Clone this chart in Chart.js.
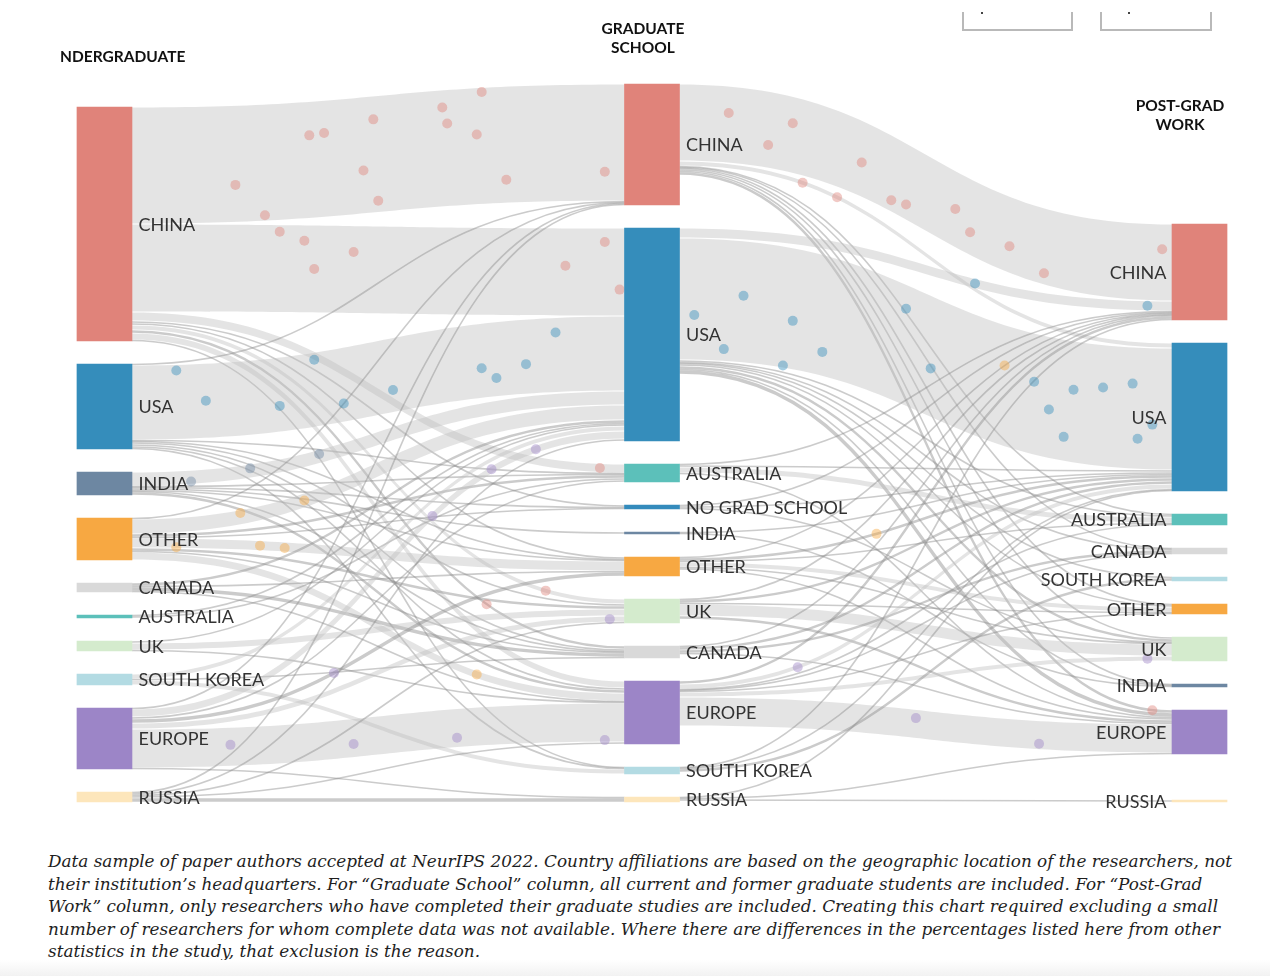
<!DOCTYPE html>
<html>
<head>
<meta charset="utf-8">
<script src="https://cdn.jsdelivr.net/npm/chart.js@4.4.1/dist/chart.umd.min.js"></script>
<style>
	body { margin: 0; background: #fff; width: 1270px; height: 976px; overflow: hidden; position: relative; }
	#wrap { position: absolute; left: 0; top: 0; width: 1270px; height: 840px; }
	#caption { position: absolute; left: 48px; top: 850px; font: italic 16.85px/22.6px "DejaVu Serif", serif; color: #1e1e1e; white-space: nowrap; }
	#shade { position: absolute; left: 0; top: 960px; width: 1270px; height: 16px; background: linear-gradient(#fff, #f2f2f2); }
</style>
</head>
<body>
<div id="wrap"><canvas id="sankey" width="1270" height="840"></canvas></div>
<div id="caption">Data sample of paper authors accepted at NeurIPS 2022. Country affiliations are based on the geographic location of the researchers, not<br>their institution’s headquarters. For “Graduate School” column, all current and former graduate students are included. For “Post-Grad<br>Work” column, only researchers who have completed their graduate studies are included. Creating this chart required excluding a small<br>number of researchers for whom complete data was not available. Where there are differences in the percentages listed here from other<br>statistics in the study, that exclusion is the reason.</div>
<div id="shade"></div>
<script>
// VARIABLES ================================================

const undergradNodes = ["CHINA", "USA", "INDIA", "OTHER", "CANADA", "AUSTRALIA", "UK", "SOUTH KOREA", "EUROPE", "RUSSIA"];
const gradNodes = ["CHINA", "USA", "AUSTRALIA", "NO GRAD SCHOOL", "INDIA", "OTHER", "UK", "CANADA", "EUROPE", "SOUTH KOREA", "RUSSIA"];
// the empty name keeps the blank slot above RUSSIA in the work column
const workNodes = ["CHINA", "USA", "AUSTRALIA", "CANADA", "SOUTH KOREA", "OTHER", "UK", "INDIA", "EUROPE", "", "RUSSIA"];

// rows = undergrad country, columns = grad school country (authors)
const undergradToGrad = [
	[117, 88, 9, 2, 0, 2, 5, 3, 7, 1, 0], // CHINA
	[1, 75, 1, 0, 0, 1, 2, 2, 2, 1, 0], // USA
	[0, 14, 1, 1, 2, 1, 0, 1, 3, 0, 0], // INDIA
	[1, 15, 3, 1, 0, 10, 3, 1, 8, 0, 0], // OTHER
	[0, 3, 0, 0, 0, 1, 0, 4, 1, 0, 0], // CANADA
	[0, 1, 2, 0, 0, 0, 0, 0, 0, 0, 0], // AUSTRALIA
	[0, 2, 0, 0, 0, 0, 7, 0, 1, 0, 0], // UK
	[0, 5, 0, 0, 0, 0, 0, 1, 0, 5, 0], // SOUTH KOREA
	[1, 8, 2, 0, 0, 4, 6, 0, 39, 0, 1], // EUROPE
	[1, 2, 0, 0, 0, 0, 1, 0, 2, 0, 4], // RUSSIA
];

// rows = grad school country, columns = post-grad work country (authors)
const gradToWork = [
	[77, 5, 1, 1, 0, 1, 2, 1, 3, 0, 0], // CHINA
	[10, 122, 2, 1, 1, 2, 3, 1, 4, 0, 0], // USA
	[1, 2, 6, 0, 0, 0, 0, 0, 1, 0, 0], // AUSTRALIA
	[1, 2, 0, 0, 0, 0, 1, 0, 0, 0, 0], // NO GRAD SCHOOL
	[0, 1, 0, 0, 0, 0, 0, 1, 0, 0, 0], // INDIA
	[1, 3, 1, 0, 0, 5, 1, 0, 2, 0, 0], // OTHER
	[1, 3, 0, 0, 0, 1, 12, 0, 3, 0, 0], // UK
	[1, 3, 0, 3, 0, 0, 0, 0, 1, 0, 0], // CANADA
	[3, 5, 1, 1, 0, 1, 5, 0, 29, 0, 0], // EUROPE
	[1, 1, 0, 0, 3, 0, 0, 0, 0, 0, 0], // SOUTH KOREA
	[0, 1, 0, 0, 0, 0, 0, 0, 1, 0, 2], // RUSSIA
];

// moving dots: stage, from, to, share of the way across, share of the band height
const dots = [
	[0, "CHINA", "CHINA", 0.21, 0.68], [0, "CHINA", "CHINA", 0.27, 0.95], [0, "CHINA", "CHINA", 0.36, 0.29], [0, "CHINA", "CHINA", 0.39, 0.28],
	[0, "CHINA", "CHINA", 0.47, 0.63], [0, "CHINA", "CHINA", 0.49, 0.2], [0, "CHINA", "CHINA", 0.5, 0.9], [0, "CHINA", "CHINA", 0.63, 0.15],
	[0, "CHINA", "CHINA", 0.64, 0.29], [0, "CHINA", "CHINA", 0.7, 0.4], [0, "CHINA", "CHINA", 0.71, 0.04], [0, "CHINA", "CHINA", 0.76, 0.8],
	[0, "CHINA", "CHINA", 0.96, 0.75],
	[0, "CHINA", "USA", 0.3, 0.08], [0, "CHINA", "USA", 0.35, 0.18], [0, "CHINA", "USA", 0.37, 0.5], [0, "CHINA", "USA", 0.45, 0.3],
	[0, "CHINA", "USA", 0.88, 0.43], [0, "CHINA", "USA", 0.96, 0.16], [0, "CHINA", "USA", 0.99, 0.7],
	[0, "CHINA", "AUSTRALIA", 0.95, 0.5], [0, "CHINA", "UK", 0.84, 0.5], [0, "CHINA", "CANADA", 0.72, 0.5],
	[0, "USA", "USA", 0.09, 0.08], [0, "USA", "USA", 0.15, 0.5], [0, "USA", "USA", 0.3, 0.65], [0, "USA", "USA", 0.37, 0.1],
	[0, "USA", "USA", 0.43, 0.75], [0, "USA", "USA", 0.53, 0.7], [0, "USA", "USA", 0.71, 0.6], [0, "USA", "USA", 0.74, 0.75],
	[0, "USA", "USA", 0.8, 0.6], [0, "USA", "USA", 0.86, 0.2],
	[0, "INDIA", "USA", 0.12, 0.8], [0, "INDIA", "USA", 0.24, 0.3], [0, "INDIA", "USA", 0.38, 0.3],
	[0, "OTHER", "USA", 0.22, 0.2], [0, "OTHER", "USA", 0.35, 0.5], [0, "OTHER", "OTHER", 0.09, 0.9], [0, "OTHER", "OTHER", 0.26, 0.5],
	[0, "OTHER", "OTHER", 0.31, 0.6], [0, "OTHER", "EUROPE", 0.7, 0.5],
	[0, "EUROPE", "EUROPE", 0.2, 0.45], [0, "EUROPE", "EUROPE", 0.45, 0.65], [0, "EUROPE", "EUROPE", 0.66, 0.75], [0, "EUROPE", "EUROPE", 0.96, 0.95],
	[0, "EUROPE", "USA", 0.61, 0.5], [0, "EUROPE", "USA", 0.73, 0.4], [0, "EUROPE", "USA", 0.82, 0.5], [0, "EUROPE", "OTHER", 0.41, 0.5],
	[0, "EUROPE", "UK", 0.97, 0.5],
	[1, "CHINA", "CHINA", 0.1, 0.35], [1, "CHINA", "CHINA", 0.18, 0.7], [1, "CHINA", "CHINA", 0.23, 0.35], [1, "CHINA", "CHINA", 0.37, 0.55],
	[1, "CHINA", "CHINA", 0.43, 0.85], [1, "CHINA", "CHINA", 0.46, 0.8], [1, "CHINA", "CHINA", 0.56, 0.5], [1, "CHINA", "CHINA", 0.59, 0.7],
	[1, "CHINA", "CHINA", 0.67, 0.65], [1, "CHINA", "CHINA", 0.74, 0.85], [1, "CHINA", "CHINA", 0.98, 0.33],
	[1, "CHINA", "USA", 0.25, 0.5], [1, "CHINA", "USA", 0.32, 0.5], [1, "CHINA", "EUROPE", 0.96, 0.5],
	[1, "USA", "USA", 0.03, 0.63], [1, "USA", "USA", 0.09, 0.9], [1, "USA", "USA", 0.13, 0.45], [1, "USA", "USA", 0.21, 0.98],
	[1, "USA", "USA", 0.23, 0.6], [1, "USA", "USA", 0.29, 0.8], [1, "USA", "USA", 0.46, 0.2], [1, "USA", "USA", 0.51, 0.6],
	[1, "USA", "USA", 0.72, 0.4], [1, "USA", "USA", 0.75, 0.6], [1, "USA", "USA", 0.78, 0.8], [1, "USA", "USA", 0.8, 0.4],
	[1, "USA", "USA", 0.86, 0.35], [1, "USA", "USA", 0.92, 0.3], [1, "USA", "USA", 0.93, 0.75], [1, "USA", "USA", 0.96, 0.63],
	[1, "USA", "CHINA", 0.95, 0.5], [1, "USA", "CHINA", 0.6, 0.5],
	[1, "OTHER", "CHINA", 0.66, 0.5], [1, "OTHER", "USA", 0.4, 0.5],
	[1, "EUROPE", "EUROPE", 0.48, 0.3], [1, "EUROPE", "EUROPE", 0.73, 0.8], [1, "EUROPE", "UK", 0.95, 0.5], [1, "EUROPE", "USA", 0.24, 0.5],
];

const colours = {
	"CHINA": "#e0837a",
	"USA": "#358dbb",
	"INDIA": "#6d87a2",
	"OTHER": "#f7a842",
	"CANADA": "#d9d9d9",
	"AUSTRALIA": "#5cc0ba",
	"UK": "#d4ebcd",
	"SOUTH KOREA": "#b3dbe3",
	"EUROPE": "#9c85c7",
	"RUSSIA": "#fde6bb",
	"NO GRAD SCHOOL": "#348bbc",
};

let sankey = {
	initialise: undefined,
	layout: undefined,
	datasets: undefined,
	drawLinks: undefined,
	drawText: undefined,

	gap: 23,
	bottom: 716,
	nodes: [],
	links: [],
	chart: undefined,
};

// FUNCTIONS ================================================

sankey.layout = function () {
	const columns = [undergradNodes, gradNodes, workNodes];
	const matrices = [undergradToGrad, gradToWork];
	sankey.nodes = columns.map((names, c) =>
		names.map((name, i) => {
			let out = 0;
			let inn = 0;
			if (c < 2) out = matrices[c][i].reduce((a, b) => a + b, 0);
			if (c > 0) inn = matrices[c - 1].reduce((a, row) => a + row[i], 0);
			return { name: name, column: c, value: Math.max(out, inn), outUsed: 0, inUsed: 0 };
		})
	);
	// stack each column upwards from the shared bottom line
	for (let c = 0; c < 3; c++) {
		const col = sankey.nodes[c];
		const total = col.reduce((a, n) => a + n.value, 0) + sankey.gap * (col.length - 1);
		let y = sankey.bottom - total;
		for (let i = 0; i < col.length; i++) {
			col[i].y0 = y;
			col[i].y1 = y + col[i].value;
			y = col[i].y1 + sankey.gap;
		}
	}
	sankey.links = [];
	for (let c = 0; c < 2; c++) {
		const m = matrices[c];
		let stage = [];
		for (let i = 0; i < m.length; i++) {
			for (let j = 0; j < m[i].length; j++) {
				if (!m[i][j]) continue;
				const source = sankey.nodes[c][i];
				const link = { stage: c, source: source, target: sankey.nodes[c + 1][j], value: m[i][j] };
				link.sy0 = source.y0 + source.outUsed;
				source.outUsed += link.value;
				link.sy1 = link.sy0 + link.value;
				stage.push(link);
			}
		}
		// incoming links are stacked in the order of their source nodes
		for (let j = 0; j < sankey.nodes[c + 1].length; j++) {
			const target = sankey.nodes[c + 1][j];
			stage.filter((l) => l.target === target).forEach((l) => {
				l.ty0 = target.y0 + target.inUsed;
				target.inUsed += l.value;
				l.ty1 = l.ty0 + l.value;
			});
		}
		sankey.links = sankey.links.concat(stage);
	}
};

// point on a link band at share u of the horizontal run, share f of its height (data units)
sankey.pointOnLink = function (link, u, f) {
	const x0 = link.stage + 0.0502;
	const x1 = link.stage + 1 - 0.0502;
	let lo = 0;
	let hi = 1;
	for (let k = 0; k < 30; k++) {
		const t = (lo + hi) / 2;
		const xs = 1.5 * t * (1 - t) + t * t * t;
		if (xs < u) lo = t;
		else hi = t;
	}
	const t = (lo + hi) / 2;
	const s = 3 * t * t - 2 * t * t * t;
	const top = link.sy0 + (link.ty0 - link.sy0) * s;
	const bot = link.sy1 + (link.ty1 - link.sy1) * s;
	return { x: x0 + (x1 - x0) * (1.5 * t * (1 - t) + t * t * t), y: top + (bot - top) * f };
};

sankey.datasets = function () {
	const names = Object.keys(colours);
	let sets = [];
	for (let k = 0; k < names.length; k++) {
		const name = names[k];
		let data = [];
		for (let c = 0; c < 3; c++) {
			const node = sankey.nodes[c].find((n) => n.name === name);
			if (node && node.value > 0) data.push({ x: c, y: [node.y0, node.y1] });
		}
		sets.push({
			type: "bar",
			label: name,
			data: data,
			backgroundColor: colours[name],
			barThickness: 55,
			grouped: false,
			borderWidth: 0,
			borderSkipped: false,
			order: 0,
			clip: false,
		});
	}
	let points = [];
	let pointColours = [];
	for (let k = 0; k < dots.length; k++) {
		const d = dots[k];
		const link = sankey.links.find((l) => l.stage === d[0] && l.source.name === d[1] && l.target.name === d[2]);
		if (!link) continue;
		points.push(sankey.pointOnLink(link, d[3], d[4]));
		pointColours.push(colours[d[1]] + "70");
	}
	sets.push({
		type: "scatter",
		label: "dots",
		data: points,
		pointRadius: 5,
		pointBorderWidth: 0,
		pointBackgroundColor: pointColours,
		order: 1,
		clip: false,
	});
	return sets;
};

sankey.drawLinks = function (chart) {
	const ctx = chart.ctx;
	const xs = chart.scales.x;
	const ys = chart.scales.y;
	ctx.save();
	for (let k = 0; k < sankey.links.length; k++) {
		const l = sankey.links[k];
		const x0 = xs.getPixelForValue(l.stage) + 27.5;
		const x1 = xs.getPixelForValue(l.stage + 1) - 27.5;
		const xm = (x0 + x1) / 2;
		const a0 = ys.getPixelForValue(l.sy0);
		const a1 = ys.getPixelForValue(l.sy1);
		const b0 = ys.getPixelForValue(l.ty0);
		const b1 = ys.getPixelForValue(l.ty1);
		if (l.value <= 4) {
			const ma = (a0 + a1) / 2;
			const mb = (b0 + b1) / 2;
			ctx.beginPath();
			ctx.moveTo(x0, ma);
			ctx.bezierCurveTo(xm, ma, xm, mb, x1, mb);
			ctx.lineWidth = Math.max(1.6, a1 - a0 - 0.6);
			ctx.strokeStyle = "rgba(140,140,140,0.45)";
			ctx.stroke();
		} else {
			const p = 0.6;
			ctx.beginPath();
			ctx.moveTo(x0, a0 + p);
			ctx.bezierCurveTo(xm, a0 + p, xm, b0 + p, x1, b0 + p);
			ctx.lineTo(x1, b1 - p);
			ctx.bezierCurveTo(xm, b1 - p, xm, a1 - p, x0, a1 - p);
			ctx.closePath();
			ctx.fillStyle = "rgba(190,190,190,0.42)";
			ctx.fill();
		}
	}
	ctx.restore();
};

sankey.drawText = function (chart) {
	const ctx = chart.ctx;
	const xs = chart.scales.x;
	const ys = chart.scales.y;
	ctx.save();
	ctx.textBaseline = "middle";
	ctx.font = "18px Lato";
	ctx.fillStyle = "#333";
	for (let c = 0; c < 3; c++) {
		const col = sankey.nodes[c];
		for (let i = 0; i < col.length; i++) {
			const n = col[i];
			if (!n.name) continue;
			const y = ys.getPixelForValue((n.y0 + n.y1) / 2) + 1;
			if (c < 2) {
				ctx.textAlign = "left";
				ctx.fillText(n.name, xs.getPixelForValue(c) + 34, y);
			} else {
				ctx.textAlign = "right";
				ctx.fillText(n.name, xs.getPixelForValue(c) - 33, y);
			}
		}
	}
	// column headings
	ctx.font = "bold 15.5px Lato";
	ctx.fillStyle = "#111";
	ctx.textAlign = "left";
	ctx.fillText("NDERGRADUATE", 60, 57);
	ctx.textAlign = "center";
	ctx.fillText("GRADUATE", 643, 29);
	ctx.fillText("SCHOOL", 643, 48);
	ctx.fillText("POST-GRAD", 1180, 106);
	ctx.fillText("WORK", 1180, 125);
	// clipped control boxes at the top edge
	ctx.strokeStyle = "#b9b9b9";
	ctx.lineWidth = 2;
	[[963, 1072], [1101, 1211]].forEach((b) => {
		ctx.beginPath();
		ctx.moveTo(b[0], 12);
		ctx.lineTo(b[0], 30);
		ctx.lineTo(b[1], 30);
		ctx.lineTo(b[1], 12);
		ctx.stroke();
	});
	ctx.fillStyle = "#444";
	ctx.fillRect(981, 12, 2, 2);
	ctx.fillRect(1128, 12, 2, 2);
	ctx.restore();
};

sankey.initialise = function () {
	sankey.layout();
	const config = {
		type: "bar",
		data: { datasets: sankey.datasets() },
		options: {
			responsive: false,
			animation: false,
			layout: { padding: { left: 77, right: 43, top: 86, bottom: 38 } },
			plugins: { legend: { display: false }, tooltip: { enabled: false } },
			scales: {
				x: { type: "linear", min: -0.0502, max: 2.0502, offset: false, display: false },
				y: { type: "linear", min: 0, max: 716, reverse: true, display: false },
			},
		},
		plugins: [
			{
				id: "links",
				beforeDatasetsDraw: (chart) => sankey.drawLinks(chart),
				afterDatasetsDraw: (chart) => sankey.drawText(chart),
			},
		],
	};
	sankey.chart = new Chart(document.getElementById("sankey"), config);
};

sankey.initialise();

// END ======================================================
</script>
</body>
</html>
